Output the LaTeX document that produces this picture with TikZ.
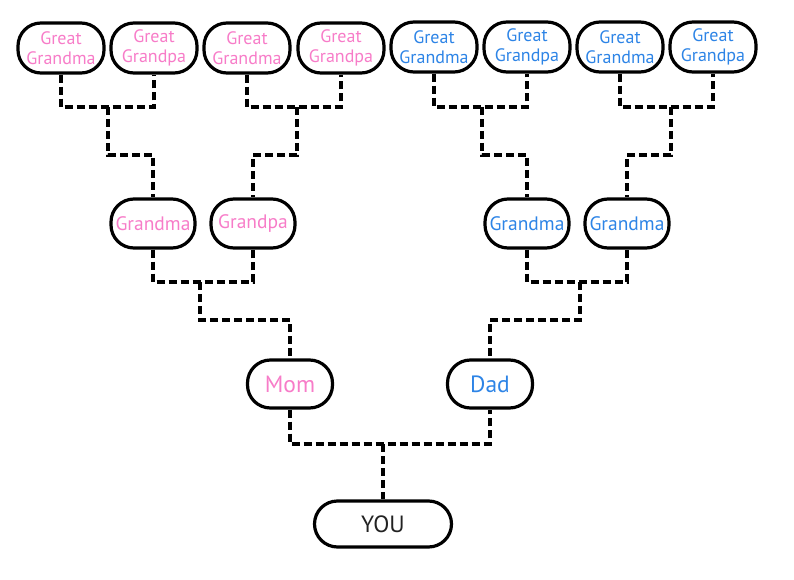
\documentclass[tikz,border=0pt]{standalone}
\usepackage{fontspec}
\setmainfont{PT Sans}
\definecolor{pinkc}{HTML}{F77CC8}
\definecolor{bluec}{HTML}{2D84E6}
\definecolor{darkc}{HTML}{222222}
\begin{document}
\begin{tikzpicture}[x=1pt,y=-1pt,
  person/.style={draw=black, line width=3.2pt, rounded corners=23pt, inner sep=0pt, align=center},
  ggp/.style={person, minimum width=86pt, minimum height=50pt, font=\fontsize{18}{20}\selectfont},
  gp/.style={person, minimum width=84pt, minimum height=49pt, font=\fontsize{19.5}{22}\selectfont},
  par/.style={person, minimum width=85pt, minimum height=48pt, font=\fontsize{23.5}{26}\selectfont},
  conn/.style={line width=3.2pt, dash pattern=on 8pt off 4pt}]
\useasboundingbox (0,0) rectangle (794,580);
% great grandparents
\node[ggp, text=pinkc] (gg1) at (61,48) {Great\\Grandma};
\node[ggp, text=pinkc] (gg2) at (154,48) {Great\\Grandpa};
\node[ggp, text=pinkc] (gg3) at (247,48) {Great\\Grandma};
\node[ggp, text=pinkc] (gg4) at (341,48) {Great\\Grandpa};
\node[ggp, text=bluec] (gg5) at (434,47) {Great\\Grandma};
\node[ggp, text=bluec] (gg6) at (527,47) {Great\\Grandpa};
\node[ggp, text=bluec] (gg7) at (620,47) {Great\\Grandma};
\node[ggp, text=bluec] (gg8) at (713,47) {Great\\Grandpa};
% grandparents
\node[gp, text=pinkc] (g1) at (153,223.5) {Grandma};
\node[gp, text=pinkc] (g2) at (253,223.5) {Grandpa};
\node[gp, text=bluec] (g3) at (527,223.5) {Grandma};
\node[gp, text=bluec] (g4) at (627,223.5) {Grandma};
% parents
\node[par, text=pinkc] (mom) at (290,384) {Mom};
\node[par, text=bluec] (dad) at (490,384) {Dad};
% you
\node[par, text=darkc, minimum width=137pt, minimum height=46pt] (you) at (383,524) {YOU};
% junctions
\coordinate (j1) at (108,107); \coordinate (k1) at (108,155);
\coordinate (j2) at (297,107); \coordinate (k2) at (297,155);
\coordinate (j3) at (482,107); \coordinate (k3) at (482,155);
\coordinate (j4) at (671,107); \coordinate (k4) at (671,155);
\coordinate (j5) at (200,282); \coordinate (k5) at (200,320);
\coordinate (j6) at (580,282); \coordinate (k6) at (580,320);
\coordinate (j7) at (383,444);
% connectors
\draw[conn] (gg1.south) |- (j1) -| (gg2.south);
\draw[conn] (gg3.south) |- (j2) -| (gg4.south);
\draw[conn] (gg5.south) |- (j3) -| (gg6.south);
\draw[conn] (gg7.south) |- (j4) -| (gg8.south);
\draw[conn] (j1) -- (k1) -| (g1.north);
\draw[conn] (j2) -- (k2) -| (g2.north);
\draw[conn] (j3) -- (k3) -| (g3.north);
\draw[conn] (j4) -- (k4) -| (g4.north);
\draw[conn] (g1.south) |- (j5) -| (g2.south);
\draw[conn] (g3.south) |- (j6) -| (g4.south);
\draw[conn] (j5) -- (k5) -| (mom.north);
\draw[conn] (j6) -- (k6) -| (dad.north);
\draw[conn] (mom.south) |- (j7) -| (dad.south);
\draw[conn] (j7) -- (you.north);
\end{tikzpicture}
\end{document}
